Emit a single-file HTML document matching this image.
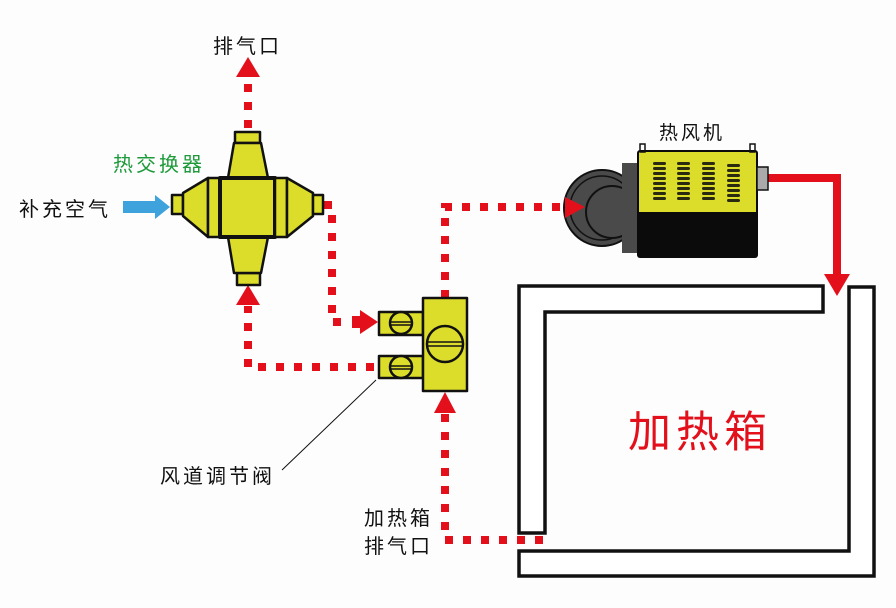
<!DOCTYPE html>
<html><head><meta charset="utf-8"><style>
html,body{margin:0;padding:0;background:#fff;}
svg{display:block;}
text{font-family:"Liberation Sans","Noto Sans CJK SC",sans-serif;letter-spacing:3px;}
</style></head><body>
<svg width="896" height="608" viewBox="0 0 896 608" xmlns="http://www.w3.org/2000/svg">
<rect width="896" height="608" fill="#fdfdfd"/>
<g fill="none" stroke="#e3101c" stroke-width="8" stroke-dasharray="8 10">
  <path d="M248 128 V80"/>
  <path d="M324 205 H332 V322 H350"/>
  <path d="M374 367 H248 V306"/>
  <path d="M445 298 V207 H565"/>
  <path d="M543 540 H445 V413"/>
</g>
<g fill="#e3101c">
  <polygon points="248,57 236,77 260,77"/>
  <polygon points="248,285 236,305 260,305"/>
  <polygon points="378,322 360,310 360,316 352,316 352,328 360,328 360,334"/>
  <polygon points="445,392 434,413 456,413"/>
  <path d="M768 174 H841 V275 H833 V182 H768 Z"/>
  <polygon points="837,296 824,274 850,274"/>
</g>
<polygon points="123,201 155,201 155,195 170,207 155,219 155,213 123,213" fill="#3ea3dc"/>
<g fill="#dcdc2a" stroke="#111" stroke-width="2.5" stroke-linejoin="round">
  <rect x="235" y="132" width="25" height="11"/>
  <polygon points="234,143 261,143 268,178 228,178"/>
  <rect x="237" y="273" width="23" height="12"/>
  <polygon points="228,237 268,237 261,273 234,273"/>
  <rect x="172" y="195" width="11" height="19"/>
  <polygon points="183,193 208,178 208,237 183,216"/>
  <rect x="208" y="178" width="12" height="59"/>
  <rect x="220" y="178" width="55" height="59" stroke-width="4"/>
  <rect x="275" y="178" width="12" height="59"/>
  <polygon points="287,178 313,193 313,216 287,237"/>
  <rect x="313" y="195" width="10" height="19"/>
  <rect x="379" y="312" width="44" height="23"/>
  <rect x="379" y="356" width="44" height="22"/>
  <rect x="423" y="298" width="44" height="93"/>
  <circle cx="401" cy="323" r="11"/>
  <circle cx="401" cy="367" r="11"/>
  <circle cx="445" cy="344" r="18"/>
</g>
<g stroke="#111" stroke-width="1.5">
  <line x1="390" y1="322" x2="412" y2="322"/><line x1="390" y1="325" x2="412" y2="325"/>
  <line x1="390" y1="366" x2="412" y2="366"/><line x1="390" y1="369" x2="412" y2="369"/>
  <line x1="427" y1="342" x2="463" y2="342"/><line x1="427" y1="346" x2="463" y2="346"/>
</g>
<line x1="376" y1="380" x2="282" y2="470" stroke="#111" stroke-width="1"/>
<!-- fan -->
<circle cx="602" cy="208" r="38" fill="#4a4a4a" stroke="#111" stroke-width="2"/>
<circle cx="602" cy="208" r="32" fill="none" stroke="#111" stroke-width="1.5"/>
<circle cx="612" cy="212" r="26" fill="#4a4a4a" stroke="#111" stroke-width="2"/>
<rect x="622" y="163" width="22" height="90" fill="#4a4a4a"/>
<polygon points="565,197 585,207 565,218" fill="#e3101c"/>
<rect x="637" y="150" width="121" height="108" fill="#0b0b0b" rx="3"/>
<rect x="639" y="152" width="117" height="60" fill="#dcdc2a"/>
<rect x="640" y="144" width="5" height="8" fill="none" stroke="#111" stroke-width="1.5"/>
<rect x="750" y="144" width="5" height="8" fill="none" stroke="#111" stroke-width="1.5"/>
<rect x="757" y="167" width="11" height="23" fill="#aaa" stroke="#111" stroke-width="1.5"/>
<g fill="#2a2a10">
  <rect x="653" y="162" width="13" height="3" rx="1.5"/><rect x="653" y="167" width="13" height="3" rx="1.5"/><rect x="653" y="172" width="13" height="3" rx="1.5"/><rect x="653" y="177" width="13" height="3" rx="1.5"/><rect x="653" y="182" width="13" height="3" rx="1.5"/><rect x="653" y="187" width="13" height="3" rx="1.5"/><rect x="653" y="192" width="13" height="3" rx="1.5"/><rect x="653" y="197" width="13" height="3" rx="1.5"/>
  <rect x="677" y="162" width="13" height="3" rx="1.5"/><rect x="677" y="167" width="13" height="3" rx="1.5"/><rect x="677" y="172" width="13" height="3" rx="1.5"/><rect x="677" y="177" width="13" height="3" rx="1.5"/><rect x="677" y="182" width="13" height="3" rx="1.5"/><rect x="677" y="187" width="13" height="3" rx="1.5"/><rect x="677" y="192" width="13" height="3" rx="1.5"/><rect x="677" y="197" width="13" height="3" rx="1.5"/>
  <rect x="702" y="162" width="13" height="3" rx="1.5"/><rect x="702" y="167" width="13" height="3" rx="1.5"/><rect x="702" y="172" width="13" height="3" rx="1.5"/><rect x="702" y="177" width="13" height="3" rx="1.5"/><rect x="702" y="182" width="13" height="3" rx="1.5"/><rect x="702" y="187" width="13" height="3" rx="1.5"/><rect x="702" y="192" width="13" height="3" rx="1.5"/><rect x="702" y="197" width="13" height="3" rx="1.5"/>
  <rect x="727" y="164" width="13" height="3" rx="1.5"/><rect x="727" y="169" width="13" height="3" rx="1.5"/><rect x="727" y="174" width="13" height="3" rx="1.5"/><rect x="727" y="179" width="13" height="3" rx="1.5"/><rect x="727" y="184" width="13" height="3" rx="1.5"/><rect x="727" y="189" width="13" height="3" rx="1.5"/><rect x="727" y="194" width="13" height="3" rx="1.5"/><rect x="727" y="199" width="13" height="3" rx="1.5"/>
</g>
<!-- box -->
<g fill="#fff" stroke="#111" stroke-width="3.5" stroke-linejoin="miter">
  <path d="M519 286 H823 V312 H545 V533 H519 Z"/>
  <path d="M849 287 H874 V576 H519 V551 H849 Z"/>
</g>
<text x="213" y="53" font-size="20" fill="#111">排气口</text>
<text x="113" y="171" font-size="20" fill="#1d9a3a">热交换器</text>
<text x="19" y="216" font-size="20" fill="#111">补充空气</text>
<text x="659" y="139" font-size="19" fill="#111">热风机</text>
<text x="160" y="483" font-size="20" fill="#111">风道调节阀</text>
<text x="364" y="525" font-size="20" fill="#111">加热箱</text>
<text x="364" y="553" font-size="20" fill="#111">排气口</text>
<text x="628" y="447" font-size="43" fill="#e3101c" style="letter-spacing:5px">加热箱</text>
</svg>
</body></html>
